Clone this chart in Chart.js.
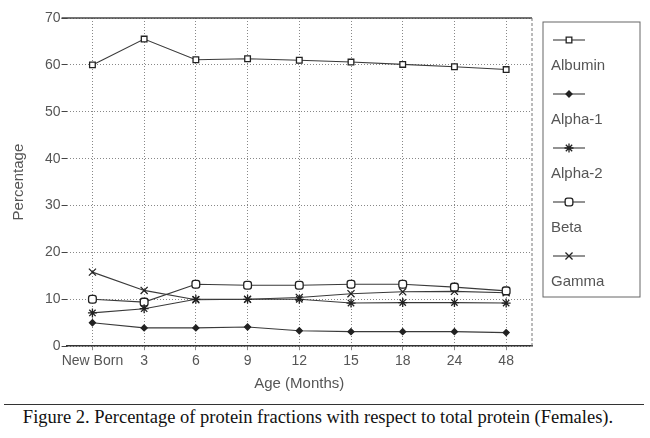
<!DOCTYPE html>
<html lang="en">

<head>
  <meta charset="UTF-8">
  <title>Protein fractions (Females)</title>
  <script src="https://cdn.jsdelivr.net/npm/chart.js"></script>
  <style>
    body { margin: 0; background: #fff; width: 650px; height: 438px; overflow: hidden; }
    .chart-wrapper { position: relative; width: 650px; height: 398px; }
    .rule { position: absolute; left: 4px; width: 640px; top: 404px; border-top: 1.5px solid #333; }
    .caption {
      position: absolute; left: 0; width: 636px; top: 407px; text-align: center;
      font-family: "Liberation Serif", "DejaVu Serif", serif; font-size: 18.5px; color: #111;
    }
  </style>
</head>

<body>
  <div class="chart-wrapper">
    <canvas id="proteinChart"></canvas>
  </div>
  <div class="rule"></div>
  <div class="caption">Figure 2. Percentage of protein fractions with respect to total protein (Females).</div>

  <script>
    // Data
    const ages = ['New Born', '3', '6', '9', '12', '15', '18', '24', '48'];
    const albumin = [60, 65.5, 61.1, 61.3, 61, 60.6, 60.1, 59.6, 59];
    const alpha1 = [5, 3.9, 3.9, 4.1, 3.3, 3.1, 3.1, 3.1, 2.9];
    const alpha2 = [7.1, 8, 10, 10, 10, 9.2, 9.3, 9.3, 9.2];
    const beta = [10, 9.4, 13.2, 13, 13, 13.2, 13.2, 12.6, 11.8];
    const gamma = [15.8, 11.9, 9.9, 10, 10.4, 11.2, 11.6, 11.7, 11.4];
    const yTicks = [0, 10, 20, 30, 40, 50, 60, 70];

    const ink = '#3a3a3a';
    const grey = '#555';
    const font = "'Liberation Sans', Arial, sans-serif";

    function series(label, data, style, radius, fill) {
      return {
        label: label, data: data,
        borderColor: ink, borderWidth: 1.1,
        pointStyle: style, pointRadius: radius,
        pointBackgroundColor: fill, pointBorderColor: '#222', pointBorderWidth: 1.3,
        tension: 0, fill: false
      };
    }

    // legend drawn as a box on the right: sample line + marker, label underneath
    const boxLegend = {
      id: 'boxLegend',
      afterDraw(chart) {
        const ctx = chart.ctx;
        const left = 543, top = 22, w = 97, h = 275;
        ctx.save();
        ctx.strokeStyle = '#666';
        ctx.lineWidth = 1;
        ctx.strokeRect(left, top, w, h);
        chart.data.datasets.forEach((ds, i) => {
          const y = top + 18 + i * 54;
          ctx.strokeStyle = ink;
          ctx.lineWidth = 1.1;
          ctx.beginPath();
          ctx.moveTo(left + 10, y);
          ctx.lineTo(left + 42, y);
          ctx.stroke();
          ctx.fillStyle = ds.pointBackgroundColor;
          ctx.strokeStyle = '#222';
          ctx.lineWidth = 1.3;
          Chart.helpers.drawPoint(ctx, { pointStyle: ds.pointStyle, radius: ds.pointRadius, rotation: 0, borderWidth: 1.3 }, left + 26, y);
          ctx.fillStyle = grey;
          ctx.font = '15px ' + font;
          ctx.textBaseline = 'middle';
          ctx.fillText(ds.label, left + 8, y + 26);
        });
        // frame: solid top, light right edge
        const a = chart.chartArea;
        ctx.strokeStyle = '#444';
        ctx.lineWidth = 1.5;
        ctx.beginPath();
        ctx.moveTo(a.left - 5, a.top);
        ctx.lineTo(a.right, a.top);
        ctx.stroke();
        ctx.strokeStyle = '#777';
        ctx.lineWidth = 1;
        ctx.setLineDash([3, 2]);
        ctx.beginPath();
        ctx.moveTo(a.right, a.top);
        ctx.lineTo(a.right, a.bottom);
        ctx.stroke();
        ctx.restore();
      }
    };

    const ctx = document.getElementById('proteinChart').getContext('2d');
    const proteinChart = new Chart(ctx, {
      type: 'line',
      data: {
        labels: ages,
        datasets: [
          series('Albumin', albumin, 'rect', 4, '#fff'),
          series('Alpha-1', alpha1, 'rectRot', 3, '#222'),
          series('Alpha-2', alpha2, 'star', 4.5, '#fff'),
          series('Beta', beta, 'rectRounded', 4.5, '#fff'),
          series('Gamma', gamma, 'crossRot', 5, '#fff')
        ]
      },
      plugins: [boxLegend],
      options: {
        responsive: true,
        maintainAspectRatio: false,
        animation: false,
        layout: { padding: { left: 6, right: 118, top: 18, bottom: 1 } },
        plugins: { legend: { display: false }, tooltip: { enabled: false } },
        scales: {
          x: {
            offset: true,
            grid: { offset: false, color: '#888', drawTicks: true, tickLength: 4 },
            border: { display: true, color: '#333', width: 1.5, dash: [1, 2] },
            ticks: { color: grey, font: { family: font, size: 14 }, padding: 3, maxRotation: 0, autoSkip: false },
            title: { display: true, text: 'Age (Months)', color: grey, font: { family: font, size: 15 }, padding: { top: 2 } }
          },
          y: {
            min: 0, max: 70,
            afterBuildTicks(axis) { axis.ticks = yTicks.map(v => ({ value: v })); },
            grid: { color: '#888', tickLength: 5, tickColor: '#444' },
            border: { display: false, dash: [1, 2] },
            ticks: { color: grey, font: { family: font, size: 14 }, padding: 1 },
            title: { display: true, text: 'Percentage', color: grey, font: { family: font, size: 15 }, padding: { bottom: 16 } }
          }
        }
      }
    });
  </script>
</body>

</html>
